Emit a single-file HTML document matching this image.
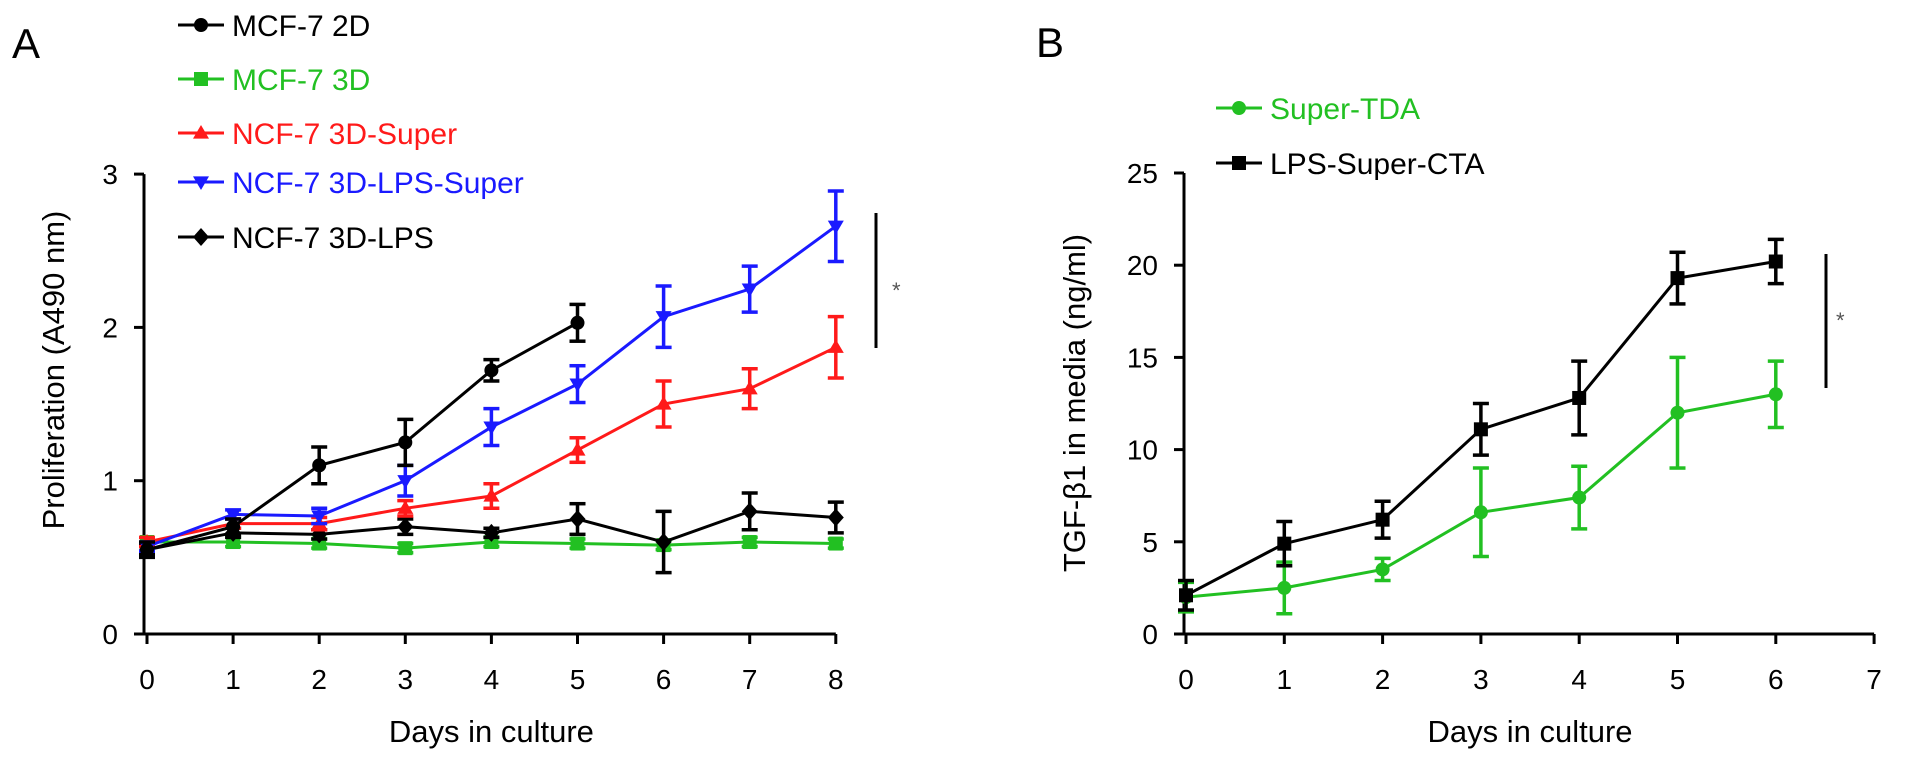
<!DOCTYPE html>
<html><head><meta charset="utf-8"><style>
body{margin:0;background:#fff}
svg text{font-family:"Liberation Sans",Arial,sans-serif}
</style></head><body>
<svg id="c" width="1913" height="760" viewBox="0 0 1913 760" xmlns="http://www.w3.org/2000/svg"></svg>
<script>
const daysA=[0,1,2,3,4,5,6,7,8];
const mcf2d=[0.55,0.7,1.1,1.25,1.72,2.03];
const mcf2dErr=[0.05,0.05,0.12,0.15,0.07,0.12];
const mcf3d=[0.6,0.6,0.59,0.56,0.6,0.59,0.58,0.6,0.59];
const mcf3dErr=[0.03,0.03,0.03,0.03,0.03,0.03,0.03,0.03,0.03];
const super3d=[0.6,0.72,0.72,0.82,0.9,1.2,1.5,1.6,1.87];
const super3dErr=[0.03,0.03,0.04,0.05,0.08,0.08,0.15,0.13,0.2];
const lpsSuper=[0.57,0.78,0.77,1.0,1.35,1.63,2.07,2.25,2.66];
const lpsSuperErr=[0.03,0.03,0.05,0.1,0.12,0.12,0.2,0.15,0.23];
const lps3d=[0.55,0.66,0.65,0.7,0.66,0.75,0.6,0.8,0.76];
const lps3dErr=[0.03,0.03,0.03,0.05,0.03,0.1,0.2,0.12,0.1];
const ticksAx=[0,1,2,3,4,5,6,7,8];
const ticksAy=[0,1,2,3];
const daysB=[0,1,2,3,4,5,6];
const superTDA=[2,2.5,3.5,6.6,7.4,12,13];
const superTDAErr=[0.8,1.4,0.6,2.4,1.7,3,1.8];
const lpsCTA=[2.1,4.9,6.2,11.1,12.8,19.3,20.2];
const lpsCTAErr=[0.8,1.2,1,1.4,2,1.4,1.2];
const ticksBx=[0,1,2,3,4,5,6,7];
const ticksBy=[0,5,10,15,20,25];

const svg=document.getElementById('c');
const NS='http://www.w3.org/2000/svg';
function el(tag,attrs,parent){const e=document.createElementNS(NS,tag);for(const k in attrs)e.setAttribute(k,attrs[k]);(parent||svg).appendChild(e);return e;}
function txt(s,x,y,size,color,anchor,name,rot){const t=el('text',{x:x,y:y,'font-size':size,fill:color,'text-anchor':anchor||'start'});


if(rot)t.setAttribute('transform','rotate(-90 '+x+' '+y+')');t.textContent=s;return t;}
function marker(shape,x,y,color,g){const s=8;
let m;
if(shape==='circle')m=el('circle',{cx:x,cy:y,r:7,fill:color},g);
else if(shape==='square')m=el('rect',{x:x-7,y:y-7,width:14,height:14,fill:color},g);
else if(shape==='up')m=el('polygon',{points:`${x},${y-s} ${x-s},${y+s*0.7} ${x+s},${y+s*0.7}`,fill:color},g);
else if(shape==='down')m=el('polygon',{points:`${x},${y+s} ${x-s},${y-s*0.7} ${x+s},${y-s*0.7}`,fill:color},g);
else m=el('polygon',{points:`${x},${y-9} ${x+8},${y} ${x},${y+9} ${x-8},${y}`,fill:color},g);

}
function series(xs,ys,es,sx,sy,color,shape,name){const g=el('g',{});


const pts=ys.map((v,i)=>sx(xs[i])+','+sy(v)).join(' ');
el('polyline',{points:pts,fill:'none',stroke:color,'stroke-width':3},g);
ys.forEach((v,i)=>{const x=sx(xs[i]);const t=sy(v+es[i]),b=sy(v-es[i]);
el('line',{x1:x,y1:t,x2:x,y2:b,stroke:color,'stroke-width':3.5},g);
el('line',{x1:x-8,y1:t,x2:x+8,y2:t,stroke:color,'stroke-width':3.5},g);
el('line',{x1:x-8,y1:b,x2:x+8,y2:b,stroke:color,'stroke-width':3.5},g);
marker(shape,x,sy(v),color,g);});}
function legend(x,y,color,shape,label,name){const g=el('g',{});


el('line',{x1:x,y1:y,x2:x+46,y2:y,stroke:color,'stroke-width':3},g);marker(shape,x+23,y,color,g);
const t=el('text',{x:x+54,y:y+11,'font-size':30,fill:color},g);t.textContent=label;}

// Panel A
const ax=v=>147+v*86.1, ay=v=>634-v*153.3;
txt('A',12,58,42,'#000','start','panel-a-label');
el('line',{x1:144,y1:ay(3),x2:144,y2:ay(0)+1,stroke:'#000','stroke-width':3});
el('line',{x1:144,y1:ay(0),x2:ax(8),y2:ay(0),stroke:'#000','stroke-width':3});
ticksAy.forEach(v=>{el('line',{x1:134,y1:ay(v),x2:144,y2:ay(v),stroke:'#000','stroke-width':3});txt(String(v),118,ay(v)+10,28,'#000','end','y-tick-a');});
ticksAx.forEach(v=>{el('line',{x1:ax(v),y1:ay(0),x2:ax(v),y2:ay(0)+10,stroke:'#000','stroke-width':3});txt(String(v),ax(v),689,28,'#000','middle','x-tick-a');});
txt('Proliferation (A490 nm)',64,370,31,'#000','middle','y-axis-title-a',true);
txt('Days in culture',ax(4),742,31,'#000','middle','x-axis-title-a');
series(daysA,mcf3d,mcf3dErr,ax,ay,'#22c022','square','series-mcf7-3d');
series(daysA,lps3d,lps3dErr,ax,ay,'#000','diamond','series-ncf7-3d-lps');
series(daysA,super3d,super3dErr,ax,ay,'#ff1a1a','up','series-ncf7-3d-super');
series(daysA,lpsSuper,lpsSuperErr,ax,ay,'#1a1aff','down','series-ncf7-3d-lps-super');
series(daysA.slice(0,6),mcf2d,mcf2dErr,ax,ay,'#000','circle','series-mcf7-2d');
legend(178,25,'#000','circle','MCF-7 2D','legend-mcf7-2d');
legend(178,79,'#22c022','square','MCF-7 3D','legend-mcf7-3d');
legend(178,133,'#ff1a1a','up','NCF-7 3D-Super','legend-ncf7-3d-super');
legend(178,182,'#1a1aff','down','NCF-7 3D-LPS-Super','legend-ncf7-3d-lps-super');
legend(178,237,'#000','diamond','NCF-7 3D-LPS','legend-ncf7-3d-lps');
el('line',{x1:876,y1:213,x2:876,y2:348,stroke:'#000','stroke-width':3});
txt('*',892,298,22,'#555','start','significance-a');

// Panel B
const bx=v=>1186+v*98.3, by=v=>634-v*18.44;
txt('B',1036,57,42,'#000','start','panel-b-label');
el('line',{x1:1184,y1:by(25),x2:1184,y2:by(0)+1,stroke:'#000','stroke-width':3});
el('line',{x1:1184,y1:by(0),x2:bx(7),y2:by(0),stroke:'#000','stroke-width':3});
ticksBy.forEach(v=>{el('line',{x1:1174,y1:by(v),x2:1184,y2:by(v),stroke:'#000','stroke-width':3});txt(String(v),1158,by(v)+10,28,'#000','end','y-tick-b');});
ticksBx.forEach(v=>{el('line',{x1:bx(v),y1:by(0),x2:bx(v),y2:by(0)+10,stroke:'#000','stroke-width':3});txt(String(v),bx(v),689,28,'#000','middle','x-tick-b');});
txt('TGF-β1 in media (ng/ml)',1085,403,31,'#000','middle','y-axis-title-b',true);
txt('Days in culture',1530,742,31,'#000','middle','x-axis-title-b');
series(daysB,superTDA,superTDAErr,bx,by,'#22c022','circle','series-super-tda');
series(daysB,lpsCTA,lpsCTAErr,bx,by,'#000','square','series-lps-super-cta');
legend(1216,108,'#22c022','circle','Super-TDA','legend-super-tda');
legend(1216,163,'#000','square','LPS-Super-CTA','legend-lps-super-cta');
el('line',{x1:1826,y1:254,x2:1826,y2:388,stroke:'#000','stroke-width':3});
txt('*',1836,328,22,'#555','start','significance-b');
</script>
</body></html>
